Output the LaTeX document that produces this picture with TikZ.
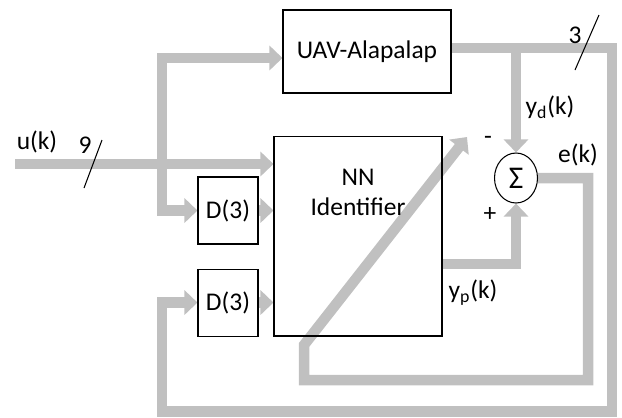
\documentclass[tikz,border=0pt]{standalone}
\usepackage{fontspec}
\setmainfont{Carlito}
\definecolor{flowgray}{RGB}{192,192,192}
\usetikzlibrary{calc, positioning, arrows.meta, shapes.geometric, backgrounds}

\begin{document}
\begin{tikzpicture}[
    x=0.02cm, y=-0.02cm,
    blockbox/.style={draw, line width=0.6pt, minimum width=3.36cm, minimum height=1.66cm,
      inner sep=0pt, font=\fontsize{14.5}{17}\selectfont, align=center},
    delaybox/.style={draw, fill=white, line width=0.6pt, minimum width=1.2cm, minimum height=1.34cm,
      inner sep=0pt, font=\fontsize{14.5}{17}\selectfont},
    sumnode/.style={draw, fill=white, ellipse, line width=0.6pt, minimum width=0.86cm,
      minimum height=1cm, inner sep=0pt, font=\fontsize{18}{20}\selectfont},
    flow/.style={draw=flowgray, line width=0.21cm},
    flowarrow/.style={flow, -{Triangle[width=0.48cm, length=0.26cm]}},
    busmark/.style={draw, line width=0.6pt},
    lbl/.style={font=\fontsize{14.5}{17}\selectfont, inner sep=0pt},
    node distance=0.48cm,
  ]
    \useasboundingbox (0,0) rectangle (622,417);
    \node[blockbox, fill=white] (UAV) at (367,51.5) {UAV-Alapalap};
    \node[blockbox, minimum height=4cm] (NN) at (358,236) {};
    \node[lbl, align=center] (nntext) at (358,192) {NN\\Identifier};
    \node[delaybox] (D1) at (228,210.5) {D(3)};
    \node[delaybox, below=of D1] (D2) {D(3)};
    \node[sumnode] (sum) at (516,178) {Σ};
    % labels
    \node[lbl] (ulbl) at (37,142) {u(k)};
    \node[lbl] (nine) at (85,145) {9};
    \node[lbl] (three) at (575,35) {3};
    \node[lbl] (ydlbl) at (550,107) {y\textsubscript{d}(k)};
    \node[lbl] (minus) at (488,140) {-};
    \node[lbl] (plus) at (490,214) {+};
    \node[lbl] (eklbl) at (578,155) {e(k)};
    \node[lbl] (yplbl) at (473,293) {y\textsubscript{p}(k)};
    % junctions and corners
    \coordinate (uin) at (15,164);
    \coordinate (jin) at (162,164);
    \coordinate (ydout) at ($(UAV.east)+(0,-3.5)$);
    \coordinate (jd) at (sum.north |- ydout);
    \coordinate (fbtr) at (612,48);
    \coordinate (fbbr) at (612,411.5);
    \coordinate (fbbl) at (162,411.5);
    \coordinate (ypout) at (442,264);
    \coordinate (er) at (588,380);
    \coordinate (el) at (304,380);
    \coordinate (ek) at (304,345);
    \coordinate (etip) at (467,137);
    \begin{scope}[on background layer]
      \draw[flowarrow] (uin) -- (uin -| NN.west);
      \draw[flowarrow] (jin) |- ($(UAV.west)+(0,6.5)$);
      \draw[flowarrow] (jin) |- (D1.west);
      \draw[flowarrow] (D1.east) -- (D1.east -| NN.west);
      \draw[flowarrow] (D2.east) -- (D2.east -| NN.west);
      \draw[flowarrow] (ydout) -- (fbtr) -- (fbbr) -- (fbbl) |- (D2.west);
      \draw[flowarrow] (jd) -- (sum.north);
      \draw[flowarrow] (ypout) -| (sum.south);
      \draw[flowarrow] (sum.east) -| (er) -- (el) -- (ek) -- (etip);
    \end{scope}
    % bus width marks
    \draw[busmark] (84,188) -- (102,140);
    \draw[busmark] (575,70) -- (599,15);
  \end{tikzpicture}
\end{document}
